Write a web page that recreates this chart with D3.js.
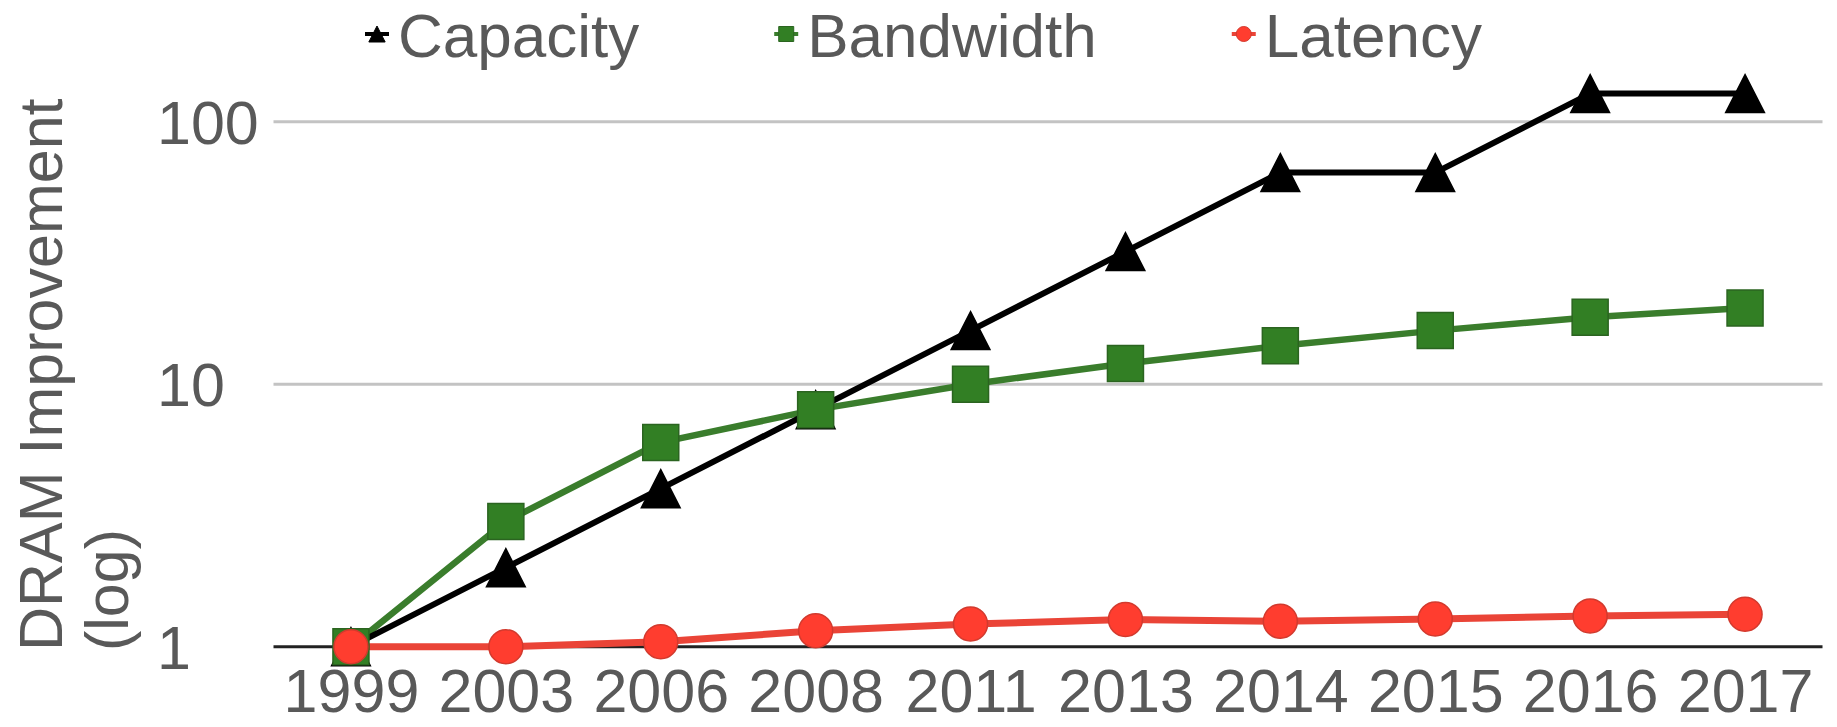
<!DOCTYPE html>
<html>
<head>
<meta charset="utf-8">
<script src="https://cdn.jsdelivr.net/npm/d3@7/dist/d3.min.js"></script>
<style>
  html, body { margin: 0; padding: 0; background: #ffffff; }
  svg { display: block; }
  text { font-family: "Liberation Sans", Arial, Helvetica, sans-serif; fill: #595959; }
</style>
</head>
<body>
<svg id="chart" width="1837" height="727"></svg>
<script>
// Years on the x axis
const years = ["1999", "2003", "2006", "2008", "2011", "2013", "2014", "2015", "2016", "2017"];
// Improvement relative to 1999 (log scale)
const capacity  = [1, 2, 4, 8, 16, 32, 64, 64, 128, 128];
const bandwidth = [1, 3, 6, 8, 10, 12, 14, 16, 18, 19.5];
const latency   = [1, 1, 1.045, 1.15, 1.22, 1.27, 1.25, 1.275, 1.31, 1.33];
const yTicks = [1, 10, 100];
const seriesNames = ["Capacity", "Bandwidth", "Latency"];
const yTitle = ["DRAM Improvement", "(log)"];

const svg = d3.select("#chart");
const plot = { left: 273.5, right: 1822.5, top: 121.7, bottom: 646.7 };
const FONT = 62;

const x = d3.scalePoint().domain(years).range([plot.left, plot.right]).padding(0.5);
const y = d3.scaleLog().domain([1, 100]).range([plot.bottom, plot.top]);

const series = [
  { name: seriesNames[0], values: capacity,  line: "#000000", fill: "#000000", stroke: "#000000", width: 6, shape: "triangle" },
  { name: seriesNames[1], values: bandwidth, line: "#3a7d2c", fill: "#327f24", stroke: "#2b6420", width: 6.5, shape: "square" },
  { name: seriesNames[2], values: latency,   line: "#ea4437", fill: "#ff3d2f", stroke: "#d23a2e", width: 7, shape: "circle" }
];

// Horizontal gridlines (the value 1 is the dark baseline)
svg.append("g").selectAll("line")
  .data(yTicks.filter(d => d !== 1))
  .join("line")
  .attr("x1", plot.left).attr("x2", plot.right)
  .attr("y1", d => y(d)).attr("y2", d => y(d))
  .attr("stroke", "#c3c3c3").attr("stroke-width", 3);

// Y axis labels, left-aligned
const yAxis = svg.append("g")
  .attr("transform", `translate(${plot.left},0)`)
  .call(d3.axisLeft(y).tickValues(yTicks).tickFormat(d3.format("d")).tickSize(0));
yAxis.select(".domain").remove();
yAxis.selectAll("text")
  .attr("x", 157 - plot.left)
  .attr("dy", "0.35em")
  .attr("text-anchor", "start")
  .style("font-size", "61px")
  .style("font-family", "'Liberation Sans', Arial, sans-serif")
  .attr("fill", "#595959");

// X axis labels
const xAxis = svg.append("g")
  .attr("transform", `translate(0,${plot.bottom})`)
  .call(d3.axisBottom(x).tickSize(0).tickPadding(22));
xAxis.select(".domain").remove();
xAxis.selectAll("text")
  .style("font-size", "61px")
  .style("font-family", "'Liberation Sans', Arial, sans-serif")
  .attr("fill", "#595959");

// Baseline at 1
svg.append("line")
  .attr("x1", plot.left).attr("x2", plot.right)
  .attr("y1", y(1)).attr("y2", y(1))
  .attr("stroke", "#222222").attr("stroke-width", 3);

// Y axis title
const title = svg.append("text")
  .attr("transform", `translate(62,651) rotate(-90)`)
  .attr("text-anchor", "start")
  .style("font-size", "61px");
title.append("tspan").attr("x", 0).attr("dy", 0).text(yTitle[0]);
title.append("tspan").attr("x", 0).attr("dy", 66).text(yTitle[1]);

// Marker path generator
function markerPath(shape, s) {
  if (shape === "triangle") {
    const w = s * 1.02, h = s;
    return `M0,${-h / 2}L${w / 2},${h / 2}L${-w / 2},${h / 2}Z`;
  }
  if (shape === "square") {
    return `M${-s / 2},${-s / 2}H${s / 2}V${s / 2}H${-s / 2}Z`;
  }
  const r = s / 2;
  return `M${r},0A${r},${r} 0 1,1 ${-r},0A${r},${r} 0 1,1 ${r},0Z`;
}

const line = d3.line().x((d, i) => x(years[i])).y(d => y(d));

// Lines: bandwidth below capacity, latency on top
const lineOrder = [series[1], series[0], series[2]];
svg.append("g").selectAll("path")
  .data(lineOrder)
  .join("path")
  .attr("d", s => line(s.values))
  .attr("fill", "none")
  .attr("stroke", s => s.line)
  .attr("stroke-width", s => s.width)
  .attr("stroke-linejoin", "round");

// Markers
const markerSize = { triangle: 38, square: 36, circle: 34 };
series.forEach(s => {
  svg.append("g").selectAll("path")
    .data(s.values)
    .join("path")
    .attr("transform", (d, i) => `translate(${x(years[i])},${y(d)})`)
    .attr("d", markerPath(s.shape, markerSize[s.shape]))
    .attr("fill", s.fill)
    .attr("stroke", s.stroke)
    .attr("stroke-width", 1.5);
});

// Legend
const legend = svg.append("g");
let lx = 377;
const legendY = 34;
series.forEach(s => {
  const g = legend.append("g").attr("transform", `translate(${lx},${legendY})`);
  g.append("line").attr("x1", -12).attr("x2", 12).attr("y1", 0).attr("y2", 0)
    .attr("stroke", s.line).attr("stroke-width", 4);
  g.append("path").attr("d", markerPath(s.shape, s.shape === "triangle" ? 16 : 15))
    .attr("fill", s.fill).attr("stroke", s.stroke).attr("stroke-width", 1);
  const t = g.append("text").attr("x", 21).attr("y", 23)
    .style("font-size", FONT + "px").text(s.name);
  const tw = t.node().getComputedTextLength();
  lx += 21 + tw + 147;
});
</script>
</body>
</html>
